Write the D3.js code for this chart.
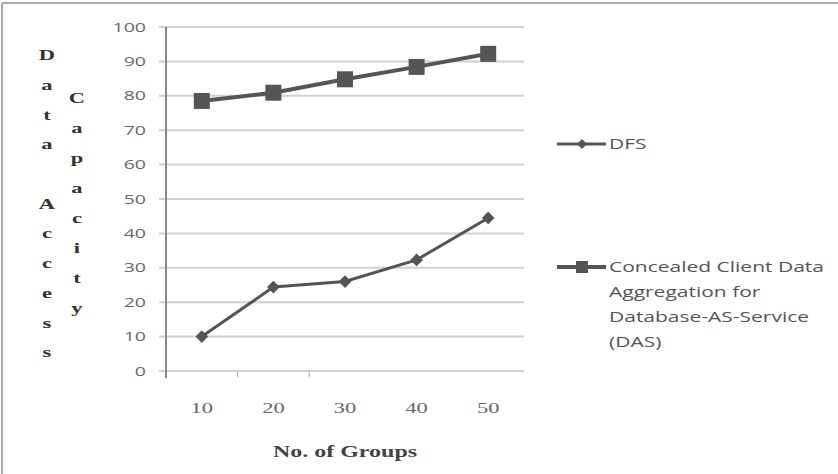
<!DOCTYPE html>
<html>
<head>
<meta charset="utf-8">
<script src="https://cdn.jsdelivr.net/npm/d3@7"></script>
<style>
  body { margin: 0; background: #fff; }
</style>
</head>
<body>
<svg id="chart" width="838" height="474"></svg>
<script>
// chart data
const groups = ["10", "20", "30", "40", "50"];
const dfsValues = [10, 24.4, 26, 32.3, 44.5];
const dasValues = [78.5, 80.9, 84.8, 88.4, 92.2];
const yTicks = [0, 10, 20, 30, 40, 50, 60, 70, 80, 90, 100];
const legendLines = [["DFS"], ["Concealed Client Data", "Aggregation for", "Database-AS-Service", "(DAS)"]];
const yTitleLeft = "Data Access";
const yTitleRight = "Capacity";

const svg = d3.select("#chart");
const lineColor = "#555";
const stretch = 1.5; // the picture is stretched sideways, text too

const serif = "Liberation Serif, Times New Roman, serif";
const sans = "Open Sans, Liberation Sans, sans-serif";

// put a horizontally stretched text at (tx, ty)
function addText(parent, tx, ty, str, opts) {
  return parent.append("text")
    .attr("transform", `translate(${tx},${ty}) scale(${stretch},1)`)
    .attr("dy", "0.35em")
    .attr("text-anchor", opts.anchor || "start")
    .attr("font-family", opts.family)
    .attr("font-weight", opts.weight || "normal")
    .attr("font-size", opts.size)
    .attr("fill", opts.fill)
    .text(str);
}

// frame (top + left edge)
svg.append("line").attr("x1", 2).attr("x2", 838).attr("y1", 3).attr("y2", 3)
  .attr("stroke", "#aaa").attr("stroke-width", 2);
svg.append("line").attr("x1", 2).attr("x2", 2).attr("y1", 3).attr("y2", 474)
  .attr("stroke", "#aaa").attr("stroke-width", 2);

const x = d3.scaleBand().domain(groups).range([166, 524]);
const y = d3.scaleLinear().domain([0, 100]).range([371, 27]);
const cx = d => x(d) + x.bandwidth() / 2;

// gridlines
svg.append("g")
  .selectAll("line")
  .data(yTicks)
  .enter().append("line")
    .attr("x1", 159).attr("x2", 524)
    .attr("y1", d => y(d)).attr("y2", d => y(d))
    .attr("stroke", "#d0d0d0").attr("stroke-width", 2);

// y tick labels
const yLab = svg.append("g");
yTicks.forEach(t => addText(yLab, 146, y(t), t, {anchor: "end", family: sans, size: 13, fill: "#666"}));

// y axis line
svg.append("line").attr("x1", 166).attr("x2", 166).attr("y1", 27).attr("y2", 378)
  .attr("stroke", "#888").attr("stroke-width", 2);

// small tick marks between categories
svg.append("g")
  .selectAll("line")
  .data(groups.slice(1, 3))
  .enter().append("line")
    .attr("x1", d => x(d)).attr("x2", d => x(d))
    .attr("y1", 372).attr("y2", 377)
    .attr("stroke", "#aaa").attr("stroke-width", 1);

// x tick labels
const xLab = svg.append("g");
groups.forEach(g => addText(xLab, cx(g), 408, g, {anchor: "middle", family: serif, size: 15, fill: "#666"}));

// x axis title
addText(svg, 345, 451, "No. of Groups", {anchor: "middle", family: serif, weight: "bold", size: 16, fill: "#444"});

// y axis titles, one letter per row
function stackText(str, x0, y0, step) {
  const g = svg.append("g");
  str.split("").forEach((ch, i) =>
    addText(g, x0, y0 + i * step, ch, {anchor: "middle", family: serif, weight: "bold", size: 15, fill: "#333"}));
}
stackText(yTitleLeft, 47, 55, 29.7);
stackText(yTitleRight, 77, 98, 30);

const line = d3.line().x(d => cx(d.g)).y(d => y(d.v));
const dfs = groups.map((g, i) => ({g: g, v: dfsValues[i]}));
const das = groups.map((g, i) => ({g: g, v: dasValues[i]}));

// DFS series
svg.append("path").datum(dfs)
  .attr("d", line).attr("fill", "none")
  .attr("stroke", lineColor).attr("stroke-width", 3);
svg.append("g")
  .selectAll("rect")
  .data(dfs)
  .enter().append("rect")
    .attr("transform", d => `translate(${cx(d.g)},${y(d.v)}) rotate(45)`)
    .attr("x", -4.5).attr("y", -4.5).attr("width", 9).attr("height", 9)
    .attr("fill", lineColor);

// DAS series
svg.append("path").datum(das)
  .attr("d", line).attr("fill", "none")
  .attr("stroke", lineColor).attr("stroke-width", 4);
svg.append("g")
  .selectAll("rect")
  .data(das)
  .enter().append("rect")
    .attr("x", d => cx(d.g) - 8).attr("y", d => y(d.v) - 8)
    .attr("width", 16).attr("height", 16)
    .attr("fill", lineColor);

// legend
const legendY = [144, 267];
legendLines.forEach((rows, i) => {
  const g = svg.append("g").attr("transform", `translate(0,${legendY[i]})`);
  g.append("line").attr("x1", 557).attr("x2", 606).attr("y1", 0).attr("y2", 0)
    .attr("stroke", lineColor).attr("stroke-width", i === 0 ? 3 : 4);
  if (i === 0) {
    g.append("rect").attr("transform", "translate(582,0) rotate(45)")
      .attr("x", -3.5).attr("y", -3.5).attr("width", 7).attr("height", 7)
      .attr("fill", lineColor);
  } else {
    g.append("rect").attr("x", 576).attr("y", -6).attr("width", 12).attr("height", 12)
      .attr("fill", lineColor);
  }
  rows.forEach((r, j) => addText(g, 609, j * 25, r, {family: sans, size: 14, fill: "#555"}));
});
</script>
</body>
</html>
